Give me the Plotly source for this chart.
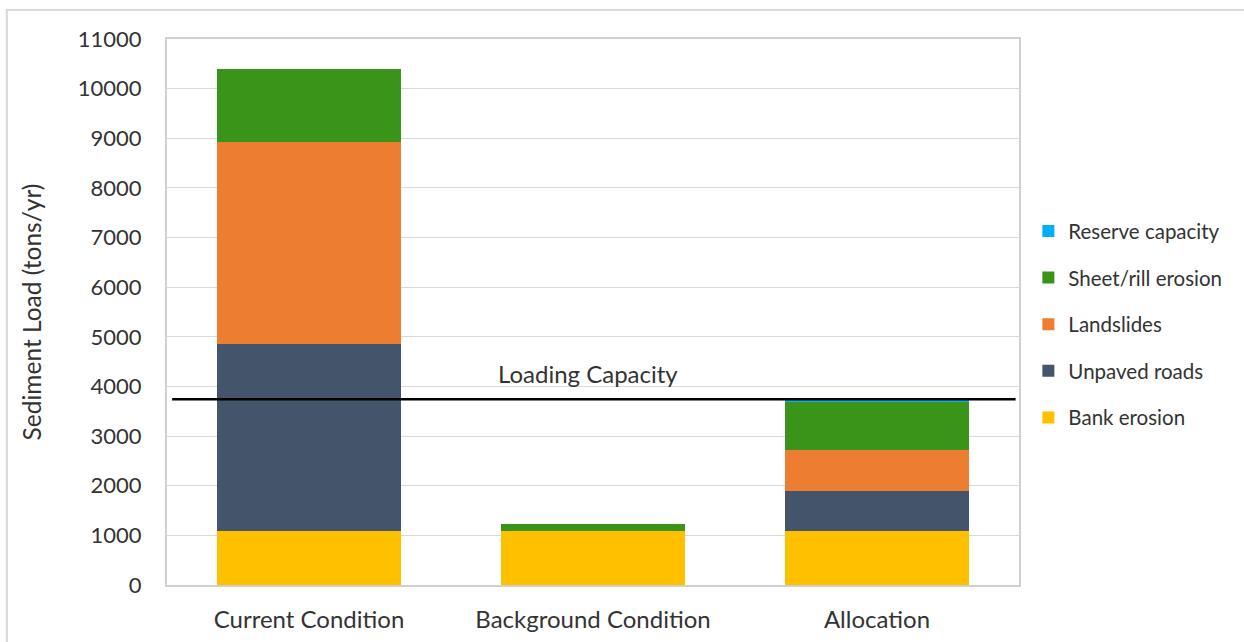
import plotly.graph_objects as go

categories = ["Current Condition", "Background Condition", "Allocation"]
bank_erosion = [1080, 1080, 1080]
unpaved_roads = [3770, 0, 805]
landslides = [4070, 0, 833]
sheet_rill = [1470, 140, 967]
reserve_capacity = [0, 0, 45]
loading_capacity = 3740
y_ticks = list(range(0, 11001, 1000))
y_tick_text = [str(v) for v in y_ticks]

series = [
    ("Bank erosion", bank_erosion, "#FFC000"),
    ("Unpaved roads", unpaved_roads, "#44546A"),
    ("Landslides", landslides, "#ED7D31"),
    ("Sheet/rill erosion", sheet_rill, "#3A9419"),
    ("Reserve capacity", reserve_capacity, "#00B0F0"),
]

FONT = "Lato, 'Open Sans', sans-serif"

fig = go.Figure()
n = len(series)
for i, (name, vals, col) in enumerate(series):
    fig.add_trace(go.Bar(
        x=categories, y=vals, name=name, legendgroup=name,
        legendrank=n - i,
        marker=dict(color=col, line=dict(width=0)),
    ))

fig.update_layout(
    barmode="stack",
    bargap=0.35,
    width=1244, height=642,
    margin=dict(l=167, r=225, t=39, b=57),
    paper_bgcolor="white", plot_bgcolor="white",
    font=dict(family=FONT, color="#333333"),
    legend=dict(
        traceorder="grouped", tracegroupgap=17,
        x=1.011, xanchor="left", y=0.477, yanchor="middle",
        font=dict(size=20.5, family=FONT, color="#333333"),
        itemwidth=30, bgcolor="rgba(0,0,0,0)",
    ),
    xaxis=dict(
        showline=True, mirror=True, linecolor="#D0D0D0", linewidth=2,
        tickfont=dict(size=24), ticklabelstandoff=12, automargin=False,
    ),
    yaxis=dict(
        range=[0, 11000], tickvals=y_ticks, ticktext=y_tick_text,
        showgrid=True, gridcolor="#D9D9D9", gridwidth=1,
        showline=True, mirror=True, linecolor="#D0D0D0", linewidth=2,
        tickfont=dict(size=22), ticklabelstandoff=19, zeroline=False,
        automargin=False,
        title=dict(text="Sediment Load (tons/yr)", font=dict(size=24.5), standoff=29),
    ),
)

# Loading capacity line and label
fig.add_shape(type="line", xref="paper", yref="y", x0=0.006, x1=0.996,
              y0=loading_capacity, y1=loading_capacity,
              line=dict(color="black", width=2.5))
fig.add_annotation(text="Loading Capacity", xref="paper", yref="y",
                   x=0.494, y=4270, yanchor="middle",
                   showarrow=False, font=dict(size=24, color="#333333"))

# Outer frame (partially visible)
fig.add_shape(type="rect", xref="paper", yref="paper",
              x0=-0.188, x1=1.5, y0=-0.2, y1=1.053,
              line=dict(color="#D9D9D9", width=2), layer="below")

fig.write_html("out.html")
